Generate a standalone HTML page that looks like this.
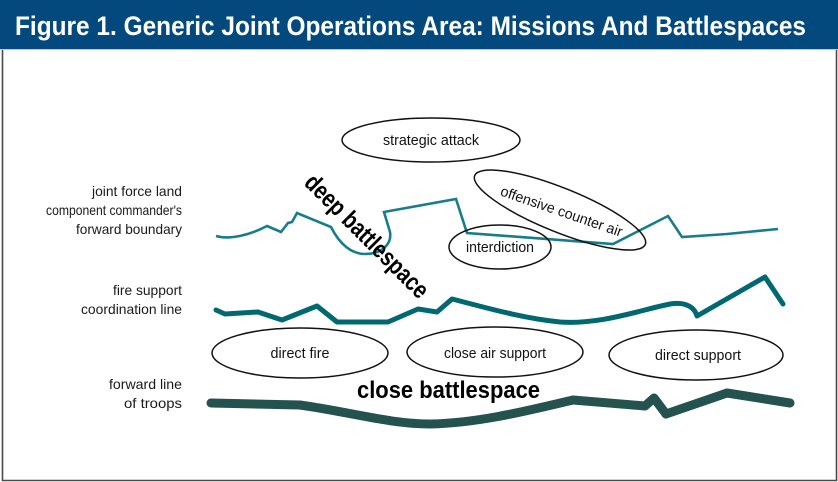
<!DOCTYPE html>
<html>
<head>
<meta charset="utf-8">
<style>
  html, body { margin: 0; padding: 0; background: #fff; }
  svg { display: block; }
  text { font-family: "Liberation Sans", "DejaVu Sans", sans-serif; }
</style>
</head>
<body>
<svg width="838" height="482" viewBox="0 0 838 482" xmlns="http://www.w3.org/2000/svg">
  <rect x="0" y="0" width="838" height="482" fill="#ffffff"/>
  <!-- header -->
  <rect x="0" y="0" width="838" height="49" fill="#03497e"/>
  <line x1="0" y1="49.5" x2="838" y2="49.5" stroke="#b9c9d9" stroke-width="1"/>
  <text x="15" y="35" font-size="27" font-weight="bold" fill="#ffffff" textLength="791" lengthAdjust="spacingAndGlyphs">Figure 1.  Generic Joint Operations Area: Missions And Battlespaces</text>
  <!-- frame -->
  <path d="M2.5,50 V480.5 H836.5 V50" fill="none" stroke="#4a4a4a" stroke-width="1.6"/>

  <!-- left labels -->
  <g font-size="14" fill="#1a1a1a" text-anchor="end">
    <text x="182" y="196" textLength="90" lengthAdjust="spacingAndGlyphs">joint force land</text>
    <text x="182" y="215" textLength="136" lengthAdjust="spacingAndGlyphs">component commander's</text>
    <text x="182" y="234" textLength="106" lengthAdjust="spacingAndGlyphs">forward boundary</text>
    <text x="182" y="295" textLength="69" lengthAdjust="spacingAndGlyphs">fire support</text>
    <text x="182" y="314" textLength="101" lengthAdjust="spacingAndGlyphs">coordination line</text>
    <text x="182" y="389" textLength="73" lengthAdjust="spacingAndGlyphs">forward line</text>
    <text x="182" y="408" textLength="58" lengthAdjust="spacingAndGlyphs">of troops</text>
  </g>

  <!-- top thin teal line (JFLCC forward boundary) -->
  <path d="M216,236 C230,240 250,235 267,226 L281,232 L288,223 L292,222 L297,213 L331,227 C340,245 352,254 365,254 C382,254 392,244 390,232 L384,212 L456,199 L467,233 L613,244 L668,216 L682,237 L727,234 L778,229"
        fill="none" stroke="#177d8b" stroke-width="2.6" stroke-linejoin="miter" stroke-linecap="butt"/>

  <!-- fire support coordination line -->
  <path d="M216,310 L225,314 L258,312 L282,320 L317,306 L337,322 L388,322 L418,309 L437,312 L452,299 C480,306 520,318 560,322 C600,325 640,310 670,304 C688,301 695,309 697,316 L765,277 L783,304"
        fill="none" stroke="#006870" stroke-width="5" stroke-linejoin="round" stroke-linecap="round"/>

  <!-- forward line of troops -->
  <path d="M211,403 L300,405 C350,412 390,424 430,424 C480,423 530,410 573,400 L645,406 L654,398 L666,414 L727,393 L790,403"
        fill="none" stroke="#24524f" stroke-width="9" stroke-linejoin="round" stroke-linecap="round"/>

  <!-- ellipses -->
  <g fill="none" stroke="#111" stroke-width="1.5">
    <ellipse cx="431" cy="140" rx="89" ry="22"/>
    <ellipse cx="560" cy="210" rx="92" ry="22" transform="rotate(22 560 210)"/>
    <ellipse cx="500" cy="247" rx="51" ry="22"/>
    <ellipse cx="300" cy="353" rx="88" ry="25"/>
    <ellipse cx="495" cy="352" rx="88" ry="25"/>
    <ellipse cx="696" cy="355" rx="87" ry="25"/>
  </g>

  <!-- ellipse labels -->
  <g font-size="14.5" fill="#111" text-anchor="middle">
    <text x="431" y="145" textLength="96" lengthAdjust="spacingAndGlyphs">strategic attack</text>
    <text x="500" y="252" textLength="68" lengthAdjust="spacingAndGlyphs">interdiction</text>
    <text x="300" y="358" textLength="59" lengthAdjust="spacingAndGlyphs">direct fire</text>
    <text x="495" y="358" textLength="102" lengthAdjust="spacingAndGlyphs">close air support</text>
    <text x="698" y="360" textLength="86" lengthAdjust="spacingAndGlyphs">direct support</text>
    <text x="560" y="216" textLength="128" lengthAdjust="spacingAndGlyphs" transform="rotate(19 560 216)">offensive counter air</text>
  </g>

  <!-- battlespace labels -->
  <text x="361" y="242" font-size="25" font-weight="bold" fill="#000" text-anchor="middle" textLength="164" lengthAdjust="spacingAndGlyphs" transform="rotate(45 361 242)">deep battlespace</text>
  <text x="357" y="398" font-size="24" font-weight="bold" fill="#000" textLength="183" lengthAdjust="spacingAndGlyphs">close battlespace</text>
</svg>
</body>
</html>
